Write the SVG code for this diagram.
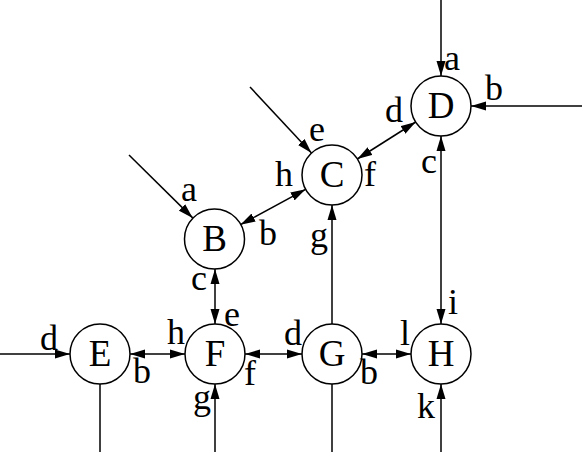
<svg xmlns="http://www.w3.org/2000/svg" width="582" height="454" viewBox="0 0 582 454">
<defs>
<marker id="ah" markerUnits="userSpaceOnUse" markerWidth="16" markerHeight="10" refX="15" refY="4.5" orient="auto-start-reverse" viewBox="0 0 16 9">
<path d="M0,0 L15,4.5 L0,9 Z" fill="#000"/>
</marker>
</defs>
<style>
.n circle{fill:#fff;stroke:#000;stroke-width:1.5}
.n text{font-family:"Liberation Serif","Times New Roman",serif;font-size:37px;text-anchor:middle;fill:#000}
.lbl{font-family:"Liberation Serif","Times New Roman",serif;font-size:36px;fill:#000}
#edges line{stroke:#000;stroke-width:1.5;fill:none}
.e1{marker-end:url(#ah)}
.e2{marker-start:url(#ah);marker-end:url(#ah)}
</style>
<rect width="582" height="454" fill="#fff"/>
<g id="edges">
<line class="e1" x1="441" y1="0" x2="441" y2="76"/>
<line class="e1" x1="582" y1="106" x2="471" y2="106"/>
<line class="e2" x1="441" y1="136" x2="441" y2="324"/>
<line class="e2" x1="357.3" y1="159" x2="415.7" y2="122"/>
<line class="e1" x1="250" y1="87" x2="311.5" y2="153"/>
<line class="e2" x1="240.4" y1="224.7" x2="305.6" y2="189.3"/>
<line class="e1" x1="129" y1="155" x2="192.7" y2="217.9"/>
<line class="e2" x1="215" y1="269" x2="215" y2="324"/>
<line class="e1" x1="332" y1="324" x2="332" y2="205"/>
<line class="e1" x1="0" y1="354" x2="70" y2="354"/>
<line class="e2" x1="130" y1="354" x2="185" y2="354"/>
<line class="e2" x1="245" y1="354" x2="302" y2="354"/>
<line class="e2" x1="362" y1="354" x2="411" y2="354"/>
<line x1="100" y1="384" x2="100" y2="452"/>
<line class="e1" x1="215" y1="452" x2="215" y2="384"/>
<line x1="332" y1="384" x2="332" y2="452"/>
<line class="e1" x1="441" y1="452" x2="441" y2="384"/>
</g>
<g id="D" class="n"><circle cx="441" cy="106" r="30"/><text x="441" y="118">D</text></g>
<g id="C" class="n"><circle cx="332" cy="175" r="30"/><text x="332" y="187">C</text></g>
<g id="B" class="n"><circle cx="214.5" cy="239" r="30"/><text x="214.5" y="251">B</text></g>
<g id="E" class="n"><circle cx="100" cy="354" r="30"/><text x="100" y="366">E</text></g>
<g id="F" class="n"><circle cx="215" cy="354" r="30"/><text x="215" y="366">F</text></g>
<g id="G" class="n"><circle cx="332" cy="354" r="30"/><text x="332" y="366">G</text></g>
<g id="H" class="n"><circle cx="441" cy="354" r="30"/><text x="441" y="366">H</text></g>
<g id="labels">
<text class="lbl" x="444" y="70">a</text>
<text class="lbl" x="485" y="100">b</text>
<text class="lbl" x="385" y="122">d</text>
<text class="lbl" x="421" y="173">c</text>
<text class="lbl" x="309" y="141">e</text>
<text class="lbl" x="275" y="186">h</text>
<text class="lbl" x="364" y="186">f</text>
<text class="lbl" x="181" y="201">a</text>
<text class="lbl" x="259" y="245">b</text>
<text class="lbl" x="310" y="247">g</text>
<text class="lbl" x="191" y="290">c</text>
<text class="lbl" x="224" y="326">e</text>
<text class="lbl" x="448" y="314">i</text>
<text class="lbl" x="40" y="350">d</text>
<text class="lbl" x="167" y="344">h</text>
<text class="lbl" x="284" y="345">d</text>
<text class="lbl" x="400" y="345">l</text>
<text class="lbl" x="133" y="383">b</text>
<text class="lbl" x="244" y="385">f</text>
<text class="lbl" x="360" y="384">b</text>
<text class="lbl" x="193" y="409">g</text>
<text class="lbl" x="417" y="418">k</text>
</g>
</svg>
